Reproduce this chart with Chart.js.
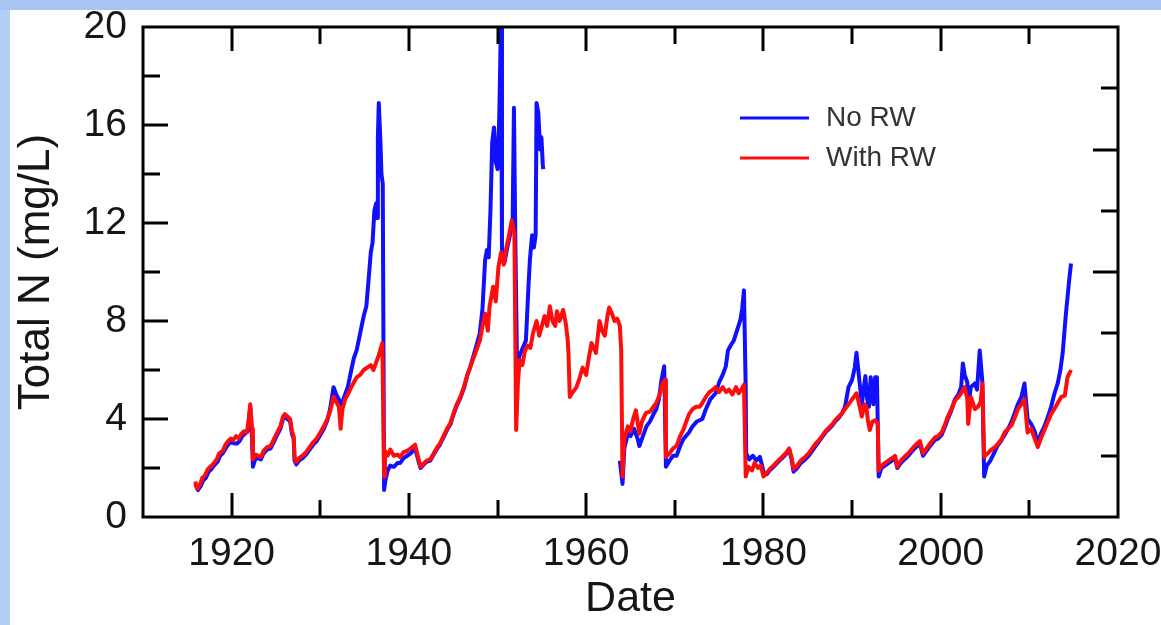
<!DOCTYPE html>
<html>
<head>
<meta charset="utf-8">
<script src="https://cdn.jsdelivr.net/npm/chart.js@4.4.0/dist/chart.umd.min.js"></script>
<style>
  html, body { margin: 0; padding: 0; background: #fff; }
</style>
</head>
<body>
<canvas id="total-n" width="1161" height="625"></canvas>
<script>
// [year, total N mg/L]
const noRW = [
  [1915.9, 1.35], [1916.2, 1.1], [1916.5, 1.25], [1916.8, 1.5], [1917.1, 1.6], [1917.4, 1.85], [1917.7, 1.95],
  [1918.0, 2.1], [1918.4, 2.25], [1918.7, 2.5], [1919.0, 2.6], [1919.4, 2.85], [1919.7, 3.0], [1920.0, 3.05],
  [1920.3, 3.0], [1920.6, 3.0], [1920.9, 3.1], [1921.2, 3.3], [1921.5, 3.4], [1921.8, 3.5], [1922.0, 4.1],
  [1922.1, 4.5], [1922.3, 3.2], [1922.4, 2.05], [1922.7, 2.4], [1923.0, 2.4], [1923.3, 2.35], [1923.6, 2.6],
  [1924.0, 2.75], [1924.4, 2.8], [1924.8, 3.1], [1925.2, 3.4], [1925.5, 3.6], [1925.8, 4.0], [1926.0, 4.1],
  [1926.3, 4.0], [1926.6, 3.9], [1926.8, 3.4], [1927.0, 3.2], [1927.1, 2.3], [1927.3, 2.15], [1927.6, 2.3],
  [1928.0, 2.4], [1928.4, 2.55], [1928.8, 2.75], [1929.2, 2.95], [1929.6, 3.1], [1930.0, 3.35], [1930.4, 3.6],
  [1930.8, 3.95], [1931.1, 4.4], [1931.5, 5.3], [1931.8, 5.0], [1932.1, 4.8], [1932.3, 4.6], [1932.5, 4.7],
  [1932.8, 5.0], [1933.1, 5.3], [1933.5, 6.0], [1933.8, 6.5], [1934.1, 6.8], [1934.5, 7.5], [1934.9, 8.2],
  [1935.2, 8.6], [1935.5, 9.9], [1935.7, 10.8], [1935.9, 11.2], [1936.1, 12.5], [1936.3, 12.8], [1936.4, 12.2],
  [1936.5, 15.5], [1936.6, 16.9], [1936.8, 15.2], [1936.9, 14.0], [1937.05, 13.6], [1937.2, 1.1], [1937.35, 1.5],
  [1937.6, 1.9], [1937.9, 2.1], [1938.3, 2.05], [1938.7, 2.2], [1939.0, 2.2], [1939.4, 2.4], [1939.8, 2.5],
  [1940.2, 2.6], [1940.7, 2.8], [1941.0, 2.4], [1941.3, 2.0], [1941.7, 2.15], [1942.0, 2.25], [1942.4, 2.3],
  [1942.8, 2.55], [1943.2, 2.8], [1943.5, 2.95], [1943.9, 3.25], [1944.3, 3.55], [1944.7, 3.8], [1945.0, 4.15],
  [1945.4, 4.55], [1945.8, 4.85], [1946.2, 5.25], [1946.6, 5.8], [1946.9, 6.1], [1947.3, 6.6], [1947.7, 7.1],
  [1948.0, 7.5], [1948.3, 8.5], [1948.6, 10.5], [1948.8, 10.9], [1949.0, 10.6], [1949.2, 12.5], [1949.4, 15.3],
  [1949.6, 15.9], [1949.8, 14.5], [1950.0, 14.2], [1950.2, 16.4], [1950.4, 20.5], [1950.5, 10.9], [1950.8, 10.4],
  [1951.1, 11.0], [1951.4, 11.5], [1951.7, 12.0], [1951.85, 16.7], [1952.0, 11.5], [1952.2, 6.2], [1952.5, 6.6],
  [1952.9, 6.95], [1953.2, 7.2], [1953.5, 9.5], [1953.65, 10.5], [1953.9, 11.5], [1954.1, 11.0], [1954.3, 11.5],
  [1954.4, 16.9], [1954.6, 16.5], [1954.8, 15.0], [1954.95, 15.5], [1955.1, 14.4], [1955.15, 14.2],
  [1955.3, null],
  [1963.8, 2.3], [1964.1, 1.35], [1964.3, 2.8], [1964.7, 3.4], [1965.0, 3.3], [1965.4, 3.6], [1965.8, 3.2],
  [1966.0, 2.9], [1966.4, 3.3], [1966.8, 3.7], [1967.2, 3.9], [1967.6, 4.2], [1967.9, 4.4], [1968.2, 4.8],
  [1968.5, 5.6], [1968.8, 6.15], [1969.0, 2.05], [1969.4, 2.3], [1969.8, 2.5], [1970.2, 2.5], [1970.6, 2.9],
  [1971.0, 3.2], [1971.6, 3.45], [1972.0, 3.7], [1972.5, 3.9], [1973.1, 4.0], [1973.5, 4.4], [1974.0, 4.8],
  [1974.6, 5.05], [1975.0, 5.5], [1975.4, 5.8], [1975.75, 6.15], [1976.0, 6.8], [1976.3, 7.0], [1976.65, 7.2],
  [1977.0, 7.6], [1977.4, 8.05], [1977.6, 8.5], [1977.8, 9.25], [1978.0, 5.2], [1978.05, 2.6], [1978.4, 2.35],
  [1978.8, 2.5], [1979.2, 2.3], [1979.6, 2.45], [1980.05, 1.8], [1980.4, 1.75], [1980.7, 1.9], [1981.0, 2.0],
  [1981.4, 2.15], [1981.8, 2.3], [1982.1, 2.4], [1982.5, 2.55], [1982.9, 2.75], [1983.2, 2.3], [1983.4, 1.85],
  [1983.8, 2.0], [1984.2, 2.2], [1984.7, 2.35], [1985.1, 2.5], [1985.5, 2.7], [1985.9, 2.9], [1986.3, 3.1],
  [1986.7, 3.3], [1987.0, 3.45], [1987.4, 3.6], [1987.8, 3.75], [1988.1, 3.9], [1988.5, 4.05], [1988.9, 4.25],
  [1989.2, 4.5], [1989.6, 5.3], [1990.0, 5.6], [1990.3, 6.1], [1990.5, 6.7], [1990.7, 6.0], [1990.9, 5.3],
  [1991.1, 4.6], [1991.3, 5.2], [1991.5, 5.75], [1991.7, 4.8], [1991.9, 4.5], [1992.1, 5.7], [1992.4, 4.6],
  [1992.6, 5.7], [1992.8, 5.7], [1993.0, 1.65], [1993.3, 2.0], [1993.7, 2.1], [1994.1, 2.2], [1994.5, 2.3],
  [1994.85, 2.4], [1995.1, 2.0], [1995.5, 2.2], [1995.9, 2.35], [1996.35, 2.5], [1996.8, 2.7], [1997.2, 2.85],
  [1997.65, 3.0], [1998.0, 2.5], [1998.4, 2.7], [1998.8, 2.9], [1999.35, 3.15], [1999.7, 3.2], [2000.1, 3.35],
  [2000.5, 3.7], [2000.8, 4.0], [2001.2, 4.35], [2001.6, 4.8], [2002.0, 5.0], [2002.3, 5.3], [2002.5, 6.27],
  [2002.7, 5.8], [2003.0, 5.5], [2003.1, 4.5], [2003.4, 5.3], [2003.85, 5.45], [2004.1, 5.2], [2004.4, 6.8],
  [2004.7, 5.5], [2004.9, 1.65], [2005.2, 2.1], [2005.6, 2.3], [2006.0, 2.6], [2006.4, 2.9], [2006.8, 3.1],
  [2007.2, 3.35], [2007.6, 3.6], [2008.0, 3.9], [2008.4, 4.3], [2008.7, 4.6], [2009.1, 4.9], [2009.45, 5.45],
  [2009.8, 4.0], [2010.2, 3.8], [2010.6, 3.5], [2010.95, 3.0], [2011.3, 3.4], [2011.7, 3.7], [2012.1, 4.1],
  [2012.45, 4.5], [2012.8, 5.0], [2013.2, 5.45], [2013.5, 6.0], [2013.76, 6.7], [2014.1, 8.2], [2014.5, 9.7],
  [2014.7, 10.35],
];

const withRW = [
  [1915.9, 1.45], [1916.1, 1.15], [1916.4, 1.3], [1916.7, 1.6], [1917.0, 1.7], [1917.3, 1.95], [1917.6, 2.05],
  [1918.0, 2.2], [1918.3, 2.35], [1918.6, 2.6], [1919.0, 2.7], [1919.3, 2.95], [1919.6, 3.1], [1919.9, 3.2],
  [1920.2, 3.15], [1920.5, 3.3], [1920.8, 3.2], [1921.1, 3.4], [1921.4, 3.5], [1921.7, 3.45], [1921.9, 3.9],
  [1922.1, 4.6], [1922.3, 3.6], [1922.4, 2.35], [1922.7, 2.55], [1923.0, 2.5], [1923.3, 2.45], [1923.6, 2.7],
  [1924.0, 2.85], [1924.4, 2.9], [1924.8, 3.2], [1925.2, 3.5], [1925.5, 3.7], [1925.8, 4.1], [1926.0, 4.2],
  [1926.3, 4.1], [1926.6, 4.0], [1926.8, 3.5], [1927.0, 3.3], [1927.1, 2.4], [1927.3, 2.25], [1927.6, 2.4],
  [1928.0, 2.5], [1928.4, 2.65], [1928.8, 2.85], [1929.2, 3.05], [1929.6, 3.2], [1930.0, 3.45], [1930.4, 3.7],
  [1930.8, 4.0], [1931.1, 4.3], [1931.5, 4.9], [1931.8, 4.7], [1932.1, 4.5], [1932.3, 3.6], [1932.5, 4.4],
  [1932.8, 4.8], [1933.1, 5.0], [1933.5, 5.3], [1933.8, 5.5], [1934.1, 5.7], [1934.5, 5.8], [1934.9, 6.0],
  [1935.3, 6.1], [1935.7, 6.2], [1936.0, 6.0], [1936.3, 6.3], [1936.6, 6.6], [1937.0, 7.1], [1937.2, 1.65],
  [1937.3, 2.7], [1937.6, 2.5], [1937.9, 2.75], [1938.3, 2.5], [1938.7, 2.55], [1939.0, 2.45], [1939.4, 2.65],
  [1939.8, 2.7], [1940.2, 2.8], [1940.7, 2.95], [1941.0, 2.5], [1941.3, 2.05], [1941.7, 2.2], [1942.0, 2.3],
  [1942.4, 2.35], [1942.8, 2.6], [1943.2, 2.85], [1943.5, 3.0], [1943.9, 3.3], [1944.3, 3.6], [1944.7, 3.85],
  [1945.0, 4.2], [1945.4, 4.6], [1945.8, 4.9], [1946.2, 5.3], [1946.6, 5.8], [1946.9, 6.1], [1947.3, 6.5],
  [1947.7, 6.9], [1948.0, 7.2], [1948.3, 7.8], [1948.6, 8.3], [1948.9, 7.6], [1949.1, 8.6], [1949.5, 9.4],
  [1949.8, 8.8], [1950.1, 10.2], [1950.4, 10.8], [1950.7, 10.3], [1951.0, 11.0], [1951.3, 11.5], [1951.6, 12.1],
  [1951.9, 11.6], [1952.1, 3.55], [1952.3, 5.5], [1952.5, 6.4], [1952.8, 6.2], [1953.1, 6.8], [1953.4, 7.0],
  [1953.7, 6.9], [1954.0, 7.5], [1954.4, 8.0], [1954.7, 7.4], [1955.0, 7.8], [1955.3, 8.2], [1955.6, 7.8],
  [1955.9, 8.6], [1956.2, 8.0], [1956.5, 7.8], [1956.7, 8.4], [1957.0, 8.0], [1957.4, 8.45], [1957.7, 7.9],
  [1957.9, 7.3], [1958.0, 6.7], [1958.15, 4.9], [1958.5, 5.1], [1958.9, 5.3], [1959.2, 5.6], [1959.6, 6.1],
  [1960.0, 5.8], [1960.3, 6.5], [1960.6, 7.1], [1961.1, 6.7], [1961.5, 8.0], [1961.8, 7.6], [1962.1, 7.4],
  [1962.4, 8.2], [1962.6, 8.55], [1962.9, 8.3], [1963.2, 8.0], [1963.5, 8.1], [1963.8, 7.8], [1963.95, 6.8],
  [1964.1, 1.65], [1964.3, 3.2], [1964.7, 3.7], [1965.0, 3.5], [1965.3, 4.0], [1965.6, 4.35], [1966.0, 3.4],
  [1966.3, 3.9], [1966.75, 4.25], [1967.2, 4.3], [1967.6, 4.5], [1967.9, 4.65], [1968.3, 5.0], [1968.6, 5.45],
  [1968.9, 5.6], [1969.0, 2.45], [1969.4, 2.6], [1969.8, 2.8], [1970.2, 2.9], [1970.6, 3.3], [1971.0, 3.6],
  [1971.3, 3.9], [1971.6, 4.2], [1972.0, 4.4], [1972.4, 4.5], [1972.8, 4.5], [1973.1, 4.65], [1973.5, 4.9],
  [1973.9, 5.1], [1974.3, 5.2], [1974.6, 5.3], [1975.0, 5.1], [1975.4, 5.3], [1975.8, 5.1], [1976.1, 5.2],
  [1976.5, 5.0], [1976.9, 5.3], [1977.2, 5.05], [1977.5, 5.2], [1977.8, 5.4], [1978.0, 1.65], [1978.3, 2.05],
  [1978.7, 1.9], [1979.0, 2.2], [1979.4, 2.0], [1979.7, 2.1], [1980.0, 1.65], [1980.4, 1.8], [1980.7, 1.95],
  [1981.0, 2.05], [1981.4, 2.2], [1981.8, 2.35], [1982.1, 2.45], [1982.5, 2.6], [1982.9, 2.8], [1983.2, 2.4],
  [1983.4, 1.95], [1983.8, 2.1], [1984.2, 2.3], [1984.7, 2.45], [1985.1, 2.6], [1985.5, 2.8], [1985.9, 3.0],
  [1986.3, 3.15], [1986.7, 3.35], [1987.0, 3.5], [1987.4, 3.65], [1987.8, 3.8], [1988.1, 3.95], [1988.5, 4.1],
  [1988.9, 4.25], [1989.2, 4.4], [1989.6, 4.6], [1990.0, 4.8], [1990.5, 5.05], [1990.8, 4.6], [1991.1, 4.1],
  [1991.4, 4.6], [1991.6, 4.5], [1991.8, 3.9], [1992.0, 3.55], [1992.3, 3.9], [1992.6, 3.95], [1992.9, 3.8],
  [1993.0, 1.9], [1993.3, 2.1], [1993.7, 2.2], [1994.1, 2.3], [1994.5, 2.4], [1994.85, 2.5], [1995.1, 2.05],
  [1995.5, 2.3], [1995.9, 2.45], [1996.35, 2.6], [1996.8, 2.8], [1997.2, 2.95], [1997.65, 3.1], [1998.0, 2.6],
  [1998.4, 2.8], [1998.8, 3.0], [1999.35, 3.25], [1999.7, 3.3], [2000.1, 3.45], [2000.5, 3.8], [2000.8, 4.1],
  [2001.2, 4.4], [2001.6, 4.75], [2002.0, 4.9], [2002.3, 5.05], [2002.7, 5.3], [2003.0, 4.8], [2003.1, 3.8],
  [2003.4, 4.9], [2003.85, 4.4], [2004.2, 4.5], [2004.5, 4.7], [2004.7, 5.45], [2004.9, 2.45], [2005.3, 2.6],
  [2005.7, 2.75], [2006.1, 2.85], [2006.5, 3.0], [2006.9, 3.2], [2007.2, 3.45], [2007.6, 3.6], [2008.0, 3.75],
  [2008.4, 4.1], [2008.7, 4.4], [2009.1, 4.6], [2009.45, 4.8], [2009.8, 3.45], [2010.2, 3.6], [2010.6, 3.2],
  [2010.95, 2.85], [2011.3, 3.2], [2011.7, 3.55], [2012.1, 3.9], [2012.45, 4.2], [2012.8, 4.4], [2013.2, 4.65],
  [2013.6, 4.9], [2014.0, 4.95], [2014.3, 5.7], [2014.7, 6.0],
];

const yearLabels = [1920, 1940, 1960, 1980, 2000, 2020];
const yearTicks = [1920, 1930, 1940, 1950, 1960, 1970, 1980, 1990, 2000, 2010];
const nLabels = [0, 4, 8, 12, 16, 20];
const nTicks = [2, 4, 6, 8, 10, 12, 14, 16, 18];
const rightSteps = 8; // right-hand axis has its own spacing, no labels

const FONT = '"Liberation Sans", Arial, sans-serif';
const INK = '#161616';

const toPoints = (rows) => rows.map(([x, y]) => ({ x, y }));

// page background with the blue strips at top and left
const backdrop = {
  id: 'backdrop',
  beforeDraw(chart) {
    const { ctx, width, height } = chart;
    ctx.save();
    ctx.fillStyle = '#ffffff';
    ctx.fillRect(0, 0, width, height);
    ctx.fillStyle = '#a6c5f3';
    ctx.fillRect(0, 0, width, 10);
    ctx.fillStyle = '#b4cff5';
    ctx.fillRect(0, 10, 10, height - 10);
    ctx.restore();
  },
};

// boxed frame with inward ticks on all four sides, plus the legend
const frame = {
  id: 'frame',
  afterDraw(chart) {
    const { ctx, chartArea: a, scales } = chart;
    ctx.save();
    ctx.strokeStyle = '#000';
    ctx.lineWidth = 3;
    ctx.strokeRect(a.left, a.top, a.right - a.left, a.bottom - a.top);

    ctx.beginPath();
    yearTicks.forEach((v) => {
      const x = Math.round(scales.x.getPixelForValue(v));
      const len = v % 20 === 0 ? 24 : 17;
      ctx.moveTo(x, a.bottom); ctx.lineTo(x, a.bottom - len);
      ctx.moveTo(x, a.top); ctx.lineTo(x, a.top + len);
    });
    nTicks.forEach((v) => {
      const y = Math.round(scales.y.getPixelForValue(v));
      const len = v % 4 === 0 ? 25 : 17;
      ctx.moveTo(a.left, y); ctx.lineTo(a.left + len, y);
    });
    for (let i = 1; i < rightSteps; i++) {
      const y = Math.round(a.bottom - (i / rightSteps) * (a.bottom - a.top));
      const len = i % 2 === 0 ? 25 : 17;
      ctx.moveTo(a.right, y); ctx.lineTo(a.right - len, y);
    }
    ctx.stroke();

    // legend
    const rows = [0, 1].map((i) => chart.data.datasets[i]);
    ctx.font = '28px ' + FONT;
    ctx.textBaseline = 'middle';
    rows.forEach((ds, i) => {
      const y = 118 + i * 40;
      ctx.strokeStyle = ds.borderColor;
      ctx.lineWidth = 3;
      ctx.beginPath();
      ctx.moveTo(740, y); ctx.lineTo(809, y);
      ctx.stroke();
      ctx.fillStyle = '#333';
      ctx.fillText(ds.label, 826, y);
    });
    ctx.restore();
  },
};

new Chart(document.getElementById('total-n'), {
  type: 'scatter',
  data: {
    datasets: [
      {
        label: 'No RW',
        data: toPoints(noRW),
        borderColor: '#1010ff',
        order: 1,
      },
      {
        label: 'With RW',
        data: toPoints(withRW),
        borderColor: '#ff0d0d',
        order: 0,
      },
    ],
  },
  options: {
    responsive: false,
    animation: false,
    showLine: true,
    spanGaps: false,
    layout: { padding: { top: 27, right: 43, left: 0, bottom: 0 } },
    elements: {
      point: { radius: 0, hoverRadius: 0 },
      line: { borderWidth: 4, tension: 0, borderJoinStyle: 'round' },
    },
    plugins: {
      legend: { display: false },
      tooltip: { enabled: false },
    },
    scales: {
      x: {
        type: 'linear',
        min: 1910,
        max: 2020,
        afterBuildTicks: (s) => { s.ticks = yearLabels.map((v) => ({ value: v })); },
        afterFit: (s) => { s.height = 108; s.paddingLeft = 0; s.paddingRight = 0; },
        grid: { display: false, drawTicks: false },
        border: { display: false },
        ticks: {
          padding: 14,
          color: INK,
          maxRotation: 0,
          autoSkip: false,
          font: { size: 39, family: FONT },
          callback: (v) => String(v),
        },
        title: {
          display: true,
          text: 'Date',
          color: INK,
          font: { size: 43, family: FONT },
          padding: { top: 0, bottom: 0 },
        },
      },
      y: {
        min: 0,
        max: 20,
        afterBuildTicks: (s) => { s.ticks = nLabels.map((v) => ({ value: v })); },
        afterFit: (s) => { s.width = 143; s.paddingTop = 0; s.paddingBottom = 0; },
        grid: { display: false, drawTicks: false },
        border: { display: false },
        ticks: {
          padding: 16,
          color: INK,
          font: { size: 39, family: FONT },
          callback: (v) => String(v),
        },
        title: {
          display: true,
          text: 'Total N (mg/L)',
          color: INK,
          font: { size: 44, family: FONT },
          padding: { top: 10, bottom: 0 },
        },
      },
    },
  },
  plugins: [backdrop, frame],
});
</script>
</body>
</html>
